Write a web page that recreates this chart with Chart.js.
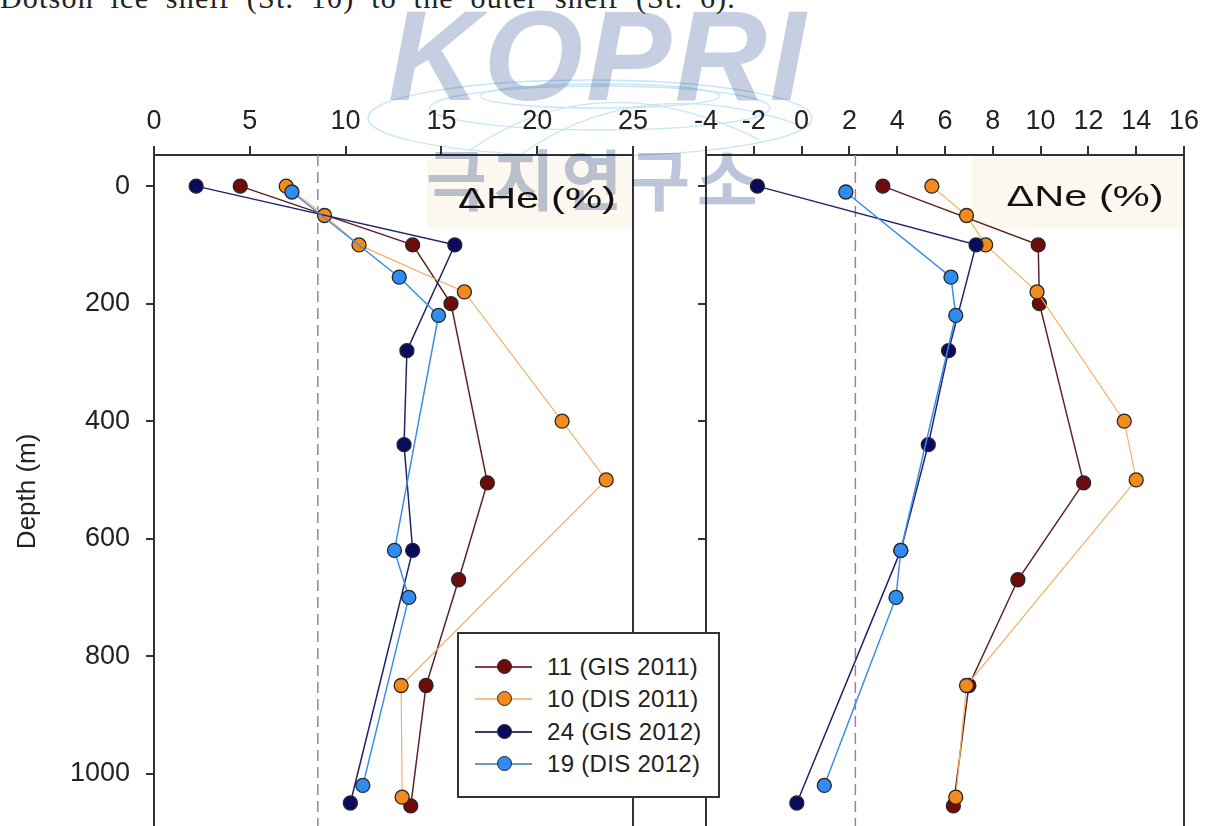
<!DOCTYPE html>
<html>
<head>
<meta charset="utf-8">
<script src="https://cdn.jsdelivr.net/npm/chart.js@4.4.1/dist/chart.umd.min.js"></script>
<style>
  body { margin: 0; background: #fff; }
  #wrap { position: relative; width: 1213px; height: 826px; overflow: hidden; font-family: Arial, "Liberation Sans", sans-serif; }
  canvas { position: absolute; top: 0; }
  #heChart { left: 0; }
  #neChart { left: 660px; }
  .topline { position: absolute; left: 0; top: -17px; font: 30px "Liberation Serif", serif; line-height: 30px; color: #222; white-space: nowrap; letter-spacing: 1.2px; word-spacing: 8px; }
  .mark { position: absolute; pointer-events: none; mix-blend-mode: multiply; white-space: nowrap; }
  #kopri { left: 388px; top: -8px; font: italic 900 128px "Liberation Sans", Arial, sans-serif; line-height: 128px; color: #c6cee1; letter-spacing: 3px; }
  #korean { left: 426px; top: 143px; font: 700 66px "Noto Sans CJK KR", sans-serif; line-height: 66px; color: #bcc5da; letter-spacing: 7px; }
  #globe { left: 0; top: 0; }
  #legend { position: absolute; left: 457px; top: 632px; width: 259px; height: 162px; border: 2px solid #333; background: #fff; }
  .row { position: absolute; left: 0; height: 30px; width: 259px; }
  .row .ln { position: absolute; left: 16px; top: 14px; width: 57px; height: 2px; }
  .row .dot { position: absolute; left: 38px; top: 7px; width: 13px; height: 13px; border-radius: 50%; border: 1.3px solid #262626; }
  .row .tx { position: absolute; left: 88px; top: 0; font: 24px Arial, "Liberation Sans", sans-serif; line-height: 30px; color: #222; letter-spacing: 0.3px; }
</style>
</head>
<body>
<div id="wrap">
  <div class="topline">Dotson ice shelf (St. 10) to the outer shelf (St. 6).</div>
  <canvas id="heChart" width="660" height="836"></canvas>
  <canvas id="neChart" width="553" height="836"></canvas>
  <svg id="globe" class="mark" width="1213" height="200">
    <g fill="none" stroke="#c6e6f5" stroke-width="1.3">
      <ellipse cx="590" cy="118" rx="222" ry="38"/>
      <ellipse cx="600" cy="108" rx="170" ry="22"/>
      <ellipse cx="600" cy="96" rx="120" ry="12"/>
      <path d="M 470 150 Q 600 60 760 140"/>
      <path d="M 520 155 Q 640 70 800 125"/>
    </g>
  </svg>
  <div id="kopri" class="mark">KOPRI</div>
  <div id="korean" class="mark">극지연구소</div>
  <div id="legend"></div>
</div>
<script>
// depths (m) and anomalies (%) per station
const seriesNames = ['11 (GIS 2011)', '10 (DIS 2011)', '24 (GIS 2012)', '19 (DIS 2012)'];

const depth11 = [0, 100, 200, 505, 670, 850, 1055];
const depth10 = [0, 50, 100, 180, 400, 500, 850, 1040];
const depth24 = [0, 100, 280, 440, 620, 1050];
const depth19 = [10, 155, 220, 620, 700, 1020];

const he11 = [4.5, 13.5, 15.5, 17.4, 15.9, 14.2, 13.4];
const he10 = [6.9, 8.9, 10.7, 16.2, 21.3, 23.6, 12.9, 12.95];
const he24 = [2.2, 15.7, 13.2, 13.05, 13.5, 10.25];
const he19 = [7.2, 12.8, 14.85, 12.55, 13.3, 10.9];

const ne11 = [3.4, 9.9, 9.95, 11.8, 9.05, 7.0, 6.35];
const ne10 = [5.45, 6.9, 7.7, 9.85, 13.5, 14.0, 6.9, 6.45];
const ne24 = [-1.85, 7.3, 6.15, 5.3, 4.15, -0.2];
const ne19 = [1.85, 6.25, 6.45, 4.15, 3.95, 0.95];

const heEquilibrium = 8.55;
const neEquilibrium = 2.25;

const fillColors = ['#6e0b0b', '#f28a1c', '#0b0b5e', '#2e8cf2'];
const lineColors = ['#5e2424', '#f4b06a', '#23236b', '#3c8de6'];
const legendLineColors = ['#8a3a48', '#f5c08a', '#3a3a7a', '#6a9ac8'];
const lineWidths = [1.5, 1.2, 1.5, 1.5];

const depthMin = -53, depthMax = 1092;
const tickFont = { family: 'Arial, "Liberation Sans", sans-serif', size: 27 };

function pts(xs, ys) {
  return xs.map((v, i) => ({ x: v, y: ys[i] }));
}

function makeDatasets(values, depths, eq) {
  const sets = values.map((v, i) => ({
    label: seriesNames[i],
    data: pts(v, depths[i]),
    borderColor: lineColors[i],
    borderWidth: lineWidths[i],
    backgroundColor: fillColors[i],
    pointBackgroundColor: fillColors[i],
    pointBorderColor: '#262626',
    pointBorderWidth: 1.3,
    pointRadius: 7,
    tension: 0,
    order: 4 - i
  }));
  sets.push({
    label: 'eq',
    data: [{ x: eq, y: depthMin }, { x: eq, y: depthMax }],
    borderColor: '#a27ab2',
    borderWidth: 1.5,
    borderDash: [11, 6],
    pointRadius: 0,
    order: 10
  });
  return sets;
}

const panelDeco = {
  id: 'panelDeco',
  beforeDatasetsDraw(chart, args, opts) {
    const ctx = chart.ctx;
    ctx.save();
    ctx.fillStyle = '#fdf8ef';
    ctx.fillRect(opts.box[0], opts.box[1], opts.box[2], opts.box[3]);
    ctx.font = '30px Arial, "Liberation Sans", sans-serif';
    const w = ctx.measureText(opts.text).width;
    ctx.fillStyle = '#111';
    ctx.textAlign = 'center';
    ctx.textBaseline = 'middle';
    ctx.translate(opts.cx, opts.cy);
    ctx.scale(opts.width / w, 1);
    ctx.fillText(opts.text, 0, 0);
    ctx.restore();
  },
  afterDatasetsDraw(chart) {
    const { ctx, chartArea: a } = chart;
    ctx.save();
    ctx.strokeStyle = '#333';
    ctx.lineWidth = 2;
    ctx.beginPath();
    ctx.moveTo(a.right, a.top);
    ctx.lineTo(a.right, a.bottom);
    ctx.stroke();
    ctx.restore();
  }
};

function makeChart(id, values, eq, xr, yWidth, padRight, deco, showY) {
  return new Chart(document.getElementById(id), {
    type: 'line',
    data: { datasets: makeDatasets(values, [depth11, depth10, depth24, depth19], eq) },
    options: {
      responsive: false,
      animation: false,
      devicePixelRatio: 1,
      layout: { padding: { left: 0, right: padRight, top: 0, bottom: 0 } },
      plugins: { legend: { display: false }, tooltip: { enabled: false }, panelDeco: deco },
      scales: {
        x: {
          type: 'linear',
          position: 'top',
          min: xr[0], max: xr[1],
          ticks: { stepSize: xr[2], font: tickFont, color: '#222', padding: 8, autoSkip: false, maxRotation: 0, includeBounds: false, callback: v => String(v) },
          grid: { drawOnChartArea: false, drawTicks: true, tickLength: 9, color: '#333', lineWidth: 2 },
          border: { color: '#333', width: 2 },
          afterFit: s => { s.height = 155; }
        },
        y: {
          type: 'linear',
          reverse: true,
          min: depthMin, max: depthMax,
          ticks: { display: showY, stepSize: 200, font: tickFont, color: '#222', padding: 16, autoSkip: false, includeBounds: false, callback: v => String(v) },
          grid: { drawOnChartArea: false, drawTicks: true, tickLength: 8, color: '#333', lineWidth: 2 },
          border: { color: '#333', width: 2 },
          title: { display: showY, text: 'Depth (m)', font: { family: 'Arial, "Liberation Sans", sans-serif', size: 26 }, color: '#222', padding: { top: 12, bottom: 0 } },
          afterFit: s => { s.width = yWidth; s.paddingTop = 0; s.paddingBottom = 0; }
        }
      }
    },
    plugins: [panelDeco]
  });
}

makeChart('heChart', [he11, he10, he24, he19], heEquilibrium, [0, 25, 5], 154, 27,
  { box: [427, 157, 205, 71], text: 'ΔHe (%)', cx: 537, cy: 200, width: 158 }, true);
makeChart('neChart', [ne11, ne10, ne24, ne19], neEquilibrium, [-4, 16, 2], 46, 29,
  { box: [312, 157, 211, 72], text: 'ΔNe (%)', cx: 425, cy: 198, width: 157 }, false);

// legend drawn as html over both panels
const legend = document.getElementById('legend');
const rowTops = [18, 50, 83, 115];
seriesNames.forEach((name, i) => {
  const row = document.createElement('div');
  row.className = 'row';
  row.style.top = rowTops[i] + 'px';
  row.innerHTML = '<div class="ln" style="background:' + legendLineColors[i] + '"></div>' +
    '<div class="dot" style="background:' + fillColors[i] + '"></div>' +
    '<div class="tx">' + name + '</div>';
  legend.appendChild(row);
});
</script>
</body>
</html>
